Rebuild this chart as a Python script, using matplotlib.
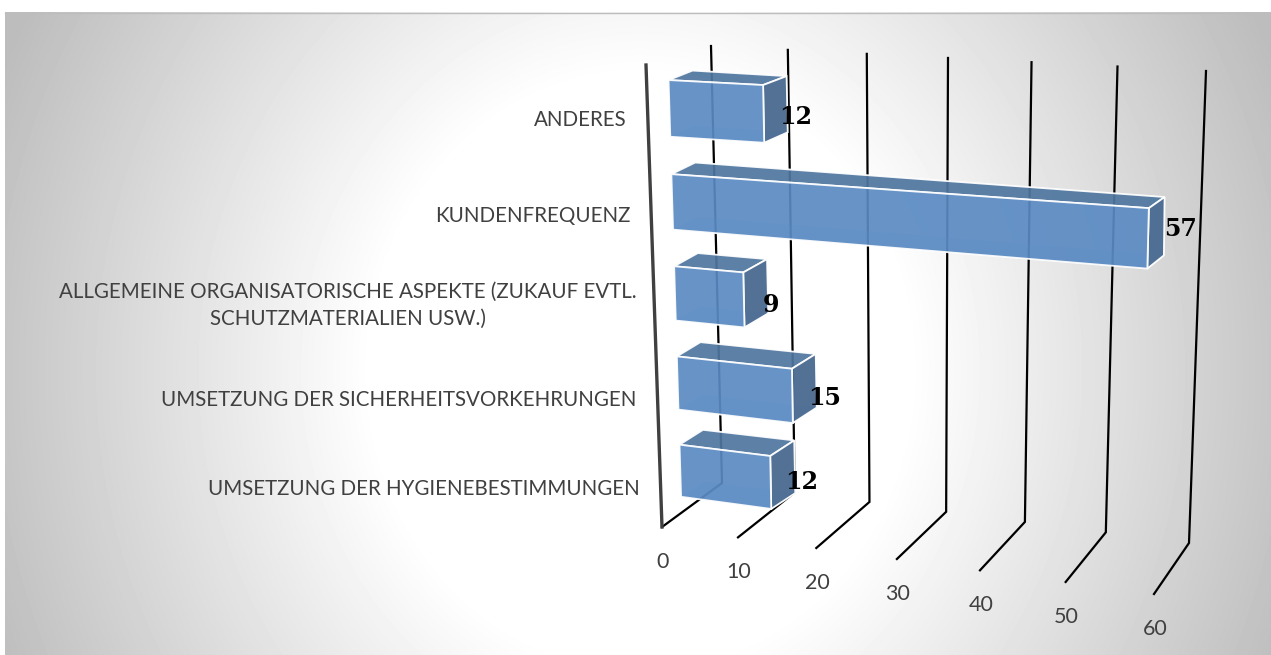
import numpy as np
import matplotlib
matplotlib.use("Agg")
import matplotlib.pyplot as plt
from matplotlib.patches import Polygon

categories = [
    "UMSETZUNG DER HYGIENEBESTIMMUNGEN",
    "UMSETZUNG DER SICHERHEITSVORKEHRUNGEN",
    "ALLGEMEINE ORGANISATORISCHE ASPEKTE (ZUKAUF EVTL.\nSCHUTZMATERIALIEN USW.)",
    "KUNDENFREQUENZ",
    "ANDERES",
]
values = [12, 15, 9, 57, 12]
ticks = [0, 10, 20, 30, 40, 50, 60]

W, H = 1271, 655
VMAX = 60
N = len(categories)


def homography(corners):
    """Maps (value, slot) to pixels, corners: (0,0), (VMAX,0), (VMAX,N), (0,N)"""
    src = [(0, 0), (VMAX, 0), (VMAX, N), (0, N)]
    a, b = [], []
    for (u, v), (x, y) in zip(src, corners):
        a.append([u, v, 1, 0, 0, 0, -u * x, -v * x])
        a.append([0, 0, 0, u, v, 1, -u * y, -v * y])
        b += [x, y]
    m = np.append(np.linalg.solve(np.array(a, float), np.array(b, float)), 1).reshape(3, 3)

    def project(u, v):
        x, y, w = m @ np.array([u, v, 1.0])
        return x / w, y / w
    return project


# perspective planes of the fake 3d chart, in pixels
back_wall = homography([(722, 483), (1189, 543), (1206, 71), (711, 46)])
front_wall = homography([(662, 527), (1154, 594), (1170, 90), (646, 65)])
bar_front = homography([(681.6, 514), (1166, 581), (1180, 86), (668, 61)])
bar_back = homography([(705, 499), (1186, 560), (1193, 80), (692, 52)])

fig = plt.figure(figsize=(W / 100, H / 100), dpi=100, facecolor="white")
ax = fig.add_axes([0, 0, 1, 1])
ax.set_xlim(0, W)
ax.set_ylim(H, 0)
ax.axis("off")

# radial background
yy, xx = np.mgrid[12:H, 5:W]
t = np.hypot((xx - 640) / 640, (yy - 370) / 700)
shade = 1 - np.clip(0.39 * (t - 0.42), 0, 0.26)
ax.imshow(shade, extent=(5, W, H, 12), cmap="gray", vmin=0, vmax=1, zorder=0, aspect="auto")
ax.plot([5, W], [12.5, 12.5], color="#bdbdbd", lw=1, zorder=1)
ax.set_xlim(0, W)
ax.set_ylim(H, 0)

# grid lines
for v in ticks:
    bx0, by0 = back_wall(v, 0)
    bx1, by1 = back_wall(v, N)
    fx, fy = front_wall(v, 0)
    ax.plot([bx1, bx0, fx], [by1, by0, fy], color="black", lw=1.6, zorder=2,
            solid_joinstyle="miter")
    ax.text(fx + 1, fy + 35, str(v), ha="center", va="center", fontsize=15.5,
            family="Lato", color="#404040", zorder=5)
x0, y0 = front_wall(0, N)
x1, y1 = front_wall(0, 0)
ax.plot([x0, x1], [y0, y1], color="#404040", lw=2.4, zorder=2)

# bars
label_offsets = [(7, 15), (8, 17), (3, 19), (16, 3), (8, 13)]
for i, (cat, val) in enumerate(zip(categories, values)):
    lo, hi = i + 0.2, i + 0.8
    f = [bar_front(0, hi), bar_front(val, hi), bar_front(val, lo), bar_front(0, lo)]
    b = [bar_back(0, hi), bar_back(val, hi), bar_back(val, lo), bar_back(0, lo)]
    # hidden faces first so that they show faintly through the front
    ax.add_patch(Polygon([b[3], b[2], f[2], f[3]], fc="#5b86ba", ec="none", alpha=0.2, zorder=3))
    ax.add_patch(Polygon([f[0], f[1], b[1], b[0]], fc="#4f769f", ec="white", lw=1.3,
                         alpha=0.93, zorder=4))
    ax.add_patch(Polygon([f[1], b[1], b[2], f[2]], fc="#4c6c92", ec="white", lw=1.3,
                         alpha=0.97, zorder=4))
    ax.add_patch(Polygon(f, fc="#5a8ac3", ec="white", lw=1.3, alpha=0.92, zorder=4.5))

    dx, dy = label_offsets[i]
    lx, ly = bar_back(val, (lo + hi) / 2)
    ax.text(lx + dx, ly + dy, str(val), ha="center", va="center", fontsize=17,
            family="DejaVu Serif", weight="bold", color="black", zorder=6)

    tx, ty = front_wall(0, i + 0.5)
    if "\n" in cat:
        ax.text(348, 305, cat, ha="center", va="center", fontsize=14.8, family="Lato",
                color="#404040", linespacing=1.45, zorder=5)
    else:
        ax.text(tx - 21, ty + 6, cat, ha="right", va="center", fontsize=14.8, family="Lato",
                color="#404040", zorder=5)

fig.savefig("out.png", dpi=100, facecolor="white")
